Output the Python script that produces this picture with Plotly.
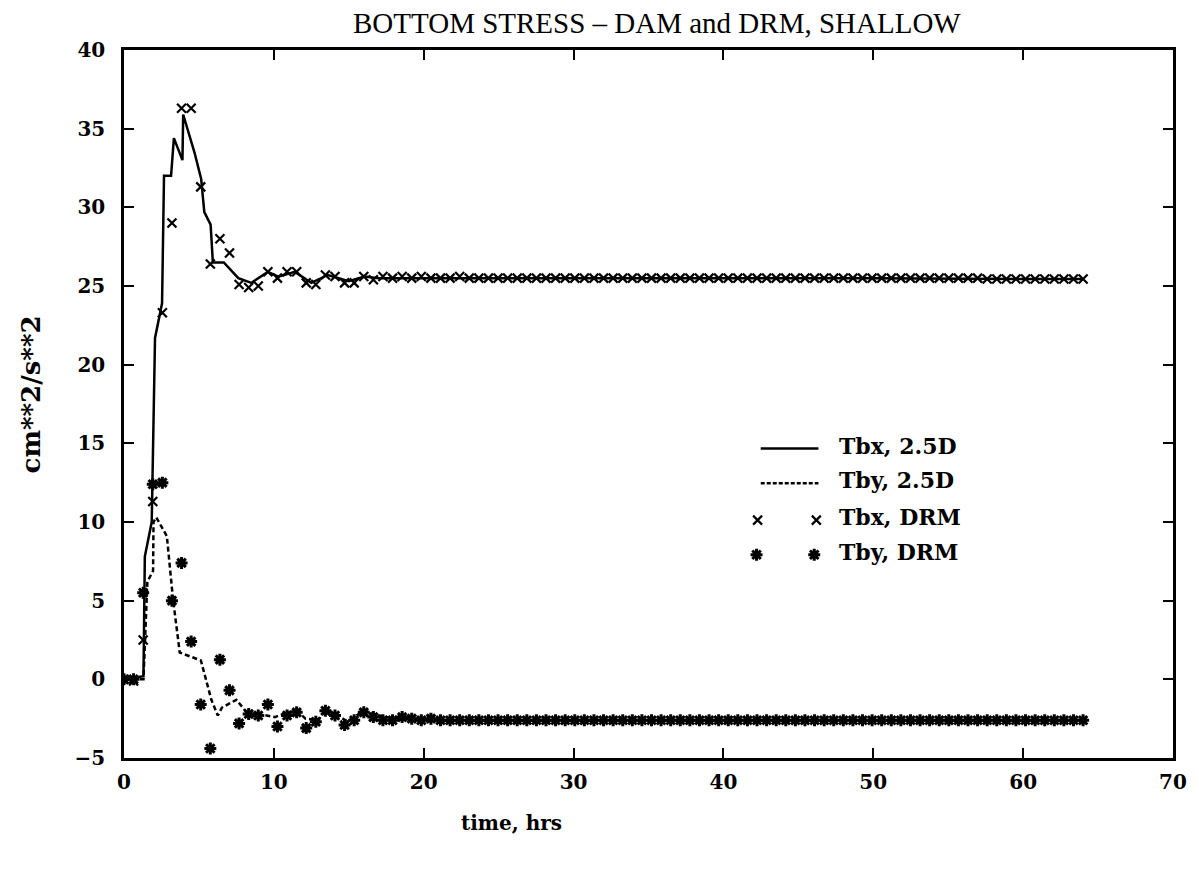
import numpy as np
import plotly.graph_objects as go

# ---- 2.5D model output (continuous curves) ----
tbx_25d_time = [0.0, 1.3, 1.39, 1.85, 2.07, 2.54, 2.67, 3.14, 3.33, 3.9, 3.95, 4.7,
                5.15, 5.36, 5.78, 5.93, 6.66, 7.63, 8.5, 9.6, 10.3, 11.4, 12.5, 13.6,
                15.0, 16.05, 17.0, 20.0, 30.0, 40.0, 50.0, 60.0, 64.0]
tbx_25d = [0.0, 0.2, 7.8, 10.0, 21.7, 23.9, 32.0, 32.0, 34.4, 33.0, 35.9, 33.5,
           31.8, 29.7, 28.9, 26.5, 26.5, 25.5, 25.2, 25.9, 25.6, 25.9, 25.2, 25.7,
           25.3, 25.6, 25.5, 25.5, 25.5, 25.5, 25.5, 25.45, 25.45]

tby_25d_time = [0.0, 1.3, 1.56, 1.94, 1.97, 2.15, 2.86, 3.27, 3.72, 4.6, 5.13, 5.83,
                6.26, 6.53, 7.5, 8.27, 8.94, 10.08, 10.88, 11.55, 12.1, 12.97, 13.42,
                14.1, 14.77, 15.3, 15.9, 16.6, 18.0, 20.0, 30.0, 40.0, 50.0, 60.0, 64.0]
tby_25d = [0.0, 0.0, 6.2, 6.9, 10.0, 10.3, 9.1, 5.1, 1.7, 1.4, 1.2, -1.3,
           -2.3, -1.8, -1.3, -2.2, -2.2, -2.4, -2.1, -2.0, -2.5, -2.6, -2.0,
           -2.2, -2.6, -2.5, -2.0, -2.2, -2.5, -2.6, -2.6, -2.6, -2.6, -2.6, -2.6]

# ---- DRM output, saved every 0.64 h ----
DRM_DT = 0.64
tbx_drm = [
    0.0, -0.1, 2.5, 11.3, 23.3, 29.0, 36.3, 36.3, 31.3, 26.4,
    28.0, 27.1, 25.1, 24.9, 25.0, 25.9, 25.5, 25.9, 25.9, 25.2,
    25.1, 25.7, 25.6, 25.2, 25.2, 25.6, 25.4, 25.6, 25.5, 25.6,
    25.5, 25.6, 25.5, 25.5, 25.5, 25.6, 25.5, 25.5, 25.5, 25.5,
    25.5, 25.5, 25.5, 25.5, 25.5, 25.5, 25.5, 25.5, 25.5, 25.5,
    25.5, 25.5, 25.5, 25.5, 25.5, 25.5, 25.5, 25.5, 25.5, 25.5,
    25.5, 25.5, 25.5, 25.5, 25.5, 25.5, 25.5, 25.5, 25.5, 25.5,
    25.5, 25.5, 25.5, 25.5, 25.5, 25.5, 25.5, 25.5, 25.5, 25.5,
    25.5, 25.5, 25.5, 25.5, 25.5, 25.5, 25.5, 25.5, 25.5, 25.5,
    25.45, 25.45, 25.45, 25.45, 25.45, 25.45, 25.45, 25.45, 25.45, 25.45,
    25.45,
]
tby_drm = [
    0.0, 0.0, 5.5, 12.4, 12.5, 5.0, 7.4, 2.4, -1.6, -4.4,
    1.25, -0.7, -2.8, -2.2, -2.3, -1.6, -3.0, -2.3, -2.1, -3.1,
    -2.7, -2.0, -2.3, -2.9, -2.6, -2.1, -2.4, -2.6, -2.6, -2.4,
    -2.5, -2.6, -2.5, -2.6, -2.6, -2.6, -2.6, -2.6, -2.6, -2.6,
    -2.6, -2.6, -2.6, -2.6, -2.6, -2.6, -2.6, -2.6, -2.6, -2.6,
    -2.6, -2.6, -2.6, -2.6, -2.6, -2.6, -2.6, -2.6, -2.6, -2.6,
    -2.6, -2.6, -2.6, -2.6, -2.6, -2.6, -2.6, -2.6, -2.6, -2.6,
    -2.6, -2.6, -2.6, -2.6, -2.6, -2.6, -2.6, -2.6, -2.6, -2.6,
    -2.6, -2.6, -2.6, -2.6, -2.6, -2.6, -2.6, -2.6, -2.6, -2.6,
    -2.6, -2.6, -2.6, -2.6, -2.6, -2.6, -2.6, -2.6, -2.6, -2.6,
    -2.6,
]
drm_time = np.round(np.arange(len(tbx_drm)) * DRM_DT, 2)

legend_labels = ["Tbx, 2.5D", "Tby, 2.5D", "Tbx, DRM", "Tby, DRM"]

SERIF = "DejaVu Serif"
BLACK = "black"
LINE_W = 2.5
DASH = "5px,3px"
X_MARK = dict(symbol="x-thin", size=9, line=dict(width=2.2, color=BLACK))
STAR_MARK = dict(symbol="asterisk", size=10, line=dict(width=3, color=BLACK))

fig = go.Figure()

fig.add_trace(go.Scatter(x=tbx_25d_time, y=tbx_25d, mode="lines",
                         line=dict(color=BLACK, width=LINE_W), showlegend=False))
fig.add_trace(go.Scatter(x=tby_25d_time, y=tby_25d, mode="lines",
                         line=dict(color=BLACK, width=LINE_W, dash=DASH), showlegend=False))
fig.add_trace(go.Scatter(x=drm_time, y=tbx_drm, mode="markers",
                         marker=X_MARK, showlegend=False))
fig.add_trace(go.Scatter(x=drm_time, y=tby_drm, mode="markers",
                         marker=STAR_MARK, showlegend=False))

# ---- hand-drawn key, placed in plot-area fractions ----
key_x0, key_x1 = 0.607, 0.662
key_rows = [0.437, 0.388, 0.336, 0.287]
fig.add_trace(go.Scatter(x=[key_x0, key_x1], y=[key_rows[0]] * 2, mode="lines",
                         line=dict(color=BLACK, width=LINE_W),
                         xaxis="x2", yaxis="y2", showlegend=False, hoverinfo="skip"))
fig.add_trace(go.Scatter(x=[key_x0, key_x1], y=[key_rows[1]] * 2, mode="lines",
                         line=dict(color=BLACK, width=LINE_W, dash="4px,2px"),
                         xaxis="x2", yaxis="y2", showlegend=False, hoverinfo="skip"))
fig.add_trace(go.Scatter(x=[key_x0 - 0.003, key_x1 - 0.002], y=[key_rows[2]] * 2,
                         mode="markers", marker=X_MARK,
                         xaxis="x2", yaxis="y2", showlegend=False, hoverinfo="skip"))
fig.add_trace(go.Scatter(x=[key_x0 - 0.004, key_x1 - 0.004], y=[key_rows[3]] * 2,
                         mode="markers", marker=STAR_MARK,
                         xaxis="x2", yaxis="y2", showlegend=False, hoverinfo="skip"))

annotations = []
for label, yy in zip(legend_labels, [0.440, 0.392, 0.340, 0.291]):
    annotations.append(dict(text=label, x=0.680, y=yy, xref="paper", yref="paper",
                            xanchor="left", yanchor="middle", showarrow=False,
                            font=dict(family=SERIF, size=22, color=BLACK, weight="bold")))

annotations.append(dict(text="BOTTOM STRESS \u2013 DAM and DRM, SHALLOW",
                        x=0.508, y=1.038, xref="paper", yref="paper",
                        xanchor="center", yanchor="middle", showarrow=False,
                        font=dict(family="Liberation Serif", size=29, color=BLACK)))
annotations.append(dict(text="time, hrs", x=0.369, y=-0.092, xref="paper", yref="paper",
                        xanchor="center", yanchor="middle", showarrow=False,
                        font=dict(family=SERIF, size=20, color=BLACK, weight="bold")))
annotations.append(dict(text="cm**2/s**2", x=-0.089, y=0.513, xref="paper", yref="paper",
                        xanchor="center", yanchor="middle", showarrow=False, textangle=-90,
                        font=dict(family=SERIF, size=26, color=BLACK, weight="bold")))

axis_common = dict(
    showline=True, linecolor=BLACK, linewidth=2.5, mirror="ticks",
    ticks="inside", ticklen=10, tickwidth=2, tickcolor=BLACK,
    showgrid=False, zeroline=False,
    tickfont=dict(family=SERIF, size=20, color=BLACK, weight="bold"),
)

fig.update_layout(
    width=1199, height=871,
    margin=dict(l=124, r=19, t=50, b=113),
    paper_bgcolor="white", plot_bgcolor="white",
    xaxis=dict(range=[0, 70], tickmode="array", tickvals=list(range(0, 71, 10)),
               ticklabelstandoff=4, **axis_common),
    yaxis=dict(range=[-5, 40], tickmode="array", tickvals=list(range(-5, 41, 5)),
               ticklabelstandoff=12, **axis_common),
    xaxis2=dict(overlaying="x", range=[0, 1], visible=False, fixedrange=True),
    yaxis2=dict(overlaying="y", range=[0, 1], visible=False, fixedrange=True),
    annotations=annotations,
    showlegend=False,
)

fig.write_html("out.html")
